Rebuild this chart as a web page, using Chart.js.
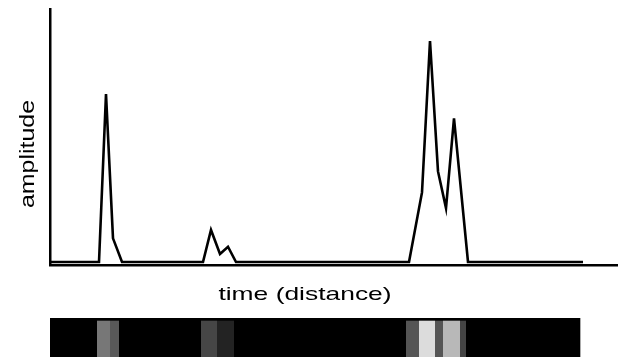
<!DOCTYPE html>
<html>
<head>
<meta charset="utf-8">
<script src="https://cdn.jsdelivr.net/npm/chart.js@4/dist/chart.umd.min.js"></script>
<style>
  body { margin: 0; background: #fff; }
  #wrap { position: relative; width: 624px; height: 357px; overflow: hidden; }
  canvas { position: absolute; left: 0; }
  #trace { top: 0; }
  #strip { top: 318px; }
</style>
</head>
<body>
<div id="wrap">
  <canvas id="trace" width="624" height="310"></canvas>
  <canvas id="strip" width="624" height="39"></canvas>
</div>
<script>
// sample times and amplitudes of the trace
var times = [0, 49, 56, 63, 72, 153, 161, 170, 178, 186, 359, 372, 380, 388, 396, 404, 418, 533];
var amps  = [0, 0, 0.76, 0.107, 0, 0, 0.145, 0.036, 0.069, 0, 0, 0.315, 1.0, 0.41, 0.244, 0.65, 0, 0];

// grey strip below: cell start/end times and grey level
var cellStart = [47, 60, 151, 167, 356, 369, 385, 393, 410];
var cellEnd   = [60, 69, 167, 184, 369, 385, 393, 410, 416];
var cellGrey  = [119, 89, 70, 35, 85, 220, 85, 184, 68];
var stripRange = [-1, 530];

var xTitle = 'time (distance)';
var yTitle = 'amplitude';

document.addEventListener("DOMContentLoaded", function () {
    var points = times.map(function (t, i) { return { x: t, y: amps[i] }; });

    // titles are drawn stretched, like in the original figure
    var titlesPlugin = {
        id: 'titles',
        afterDraw: function (chart) {
            var ctx = chart.ctx;
            ctx.save();
            ctx.fillStyle = '#000';
            ctx.textAlign = 'center';
            ctx.textBaseline = 'alphabetic';

            ctx.font = '19px "Liberation Sans", Arial, sans-serif';
            ctx.save();
            ctx.translate(305, 299.5);
            ctx.scale(1.39, 1);
            ctx.fillText(xTitle, 0, 0);
            ctx.restore();

            ctx.font = '20px "Liberation Sans", Arial, sans-serif';
            ctx.save();
            ctx.translate(33.5, 154);
            ctx.rotate(-Math.PI / 2);
            ctx.scale(1.246, 1);
            ctx.fillText(yTitle, 0, 0);
            ctx.restore();

            ctx.restore();
        }
    };

    new Chart(document.getElementById('trace').getContext('2d'), {
        type: 'line',
        data: {
            datasets: [{
                data: points,
                borderColor: '#000',
                borderWidth: 2.6,
                pointRadius: 0,
                tension: 0,
                fill: false
            }]
        },
        options: {
            responsive: false,
            animation: false,
            devicePixelRatio: 1,
            layout: { padding: { left: 50, right: 7, top: 9, bottom: 45 } },
            plugins: { legend: { display: false }, tooltip: { enabled: false } },
            scales: {
                x: {
                    type: 'linear',
                    min: 0,
                    max: 567,
                    grid: { display: false, drawTicks: false },
                    ticks: { display: false },
                    border: { display: true, color: '#000', width: 2.5 }
                },
                y: {
                    min: -0.0136,
                    max: 1.145,
                    grid: { display: false, drawTicks: false },
                    ticks: { display: false },
                    border: { display: true, color: '#000', width: 2.5 }
                }
            }
        },
        plugins: [titlesPlugin]
    });

    var stripSets = cellStart.map(function (s, i) {
        var g = cellGrey[i];
        return {
            data: [[s, cellEnd[i]]],
            backgroundColor: 'rgb(' + g + ',' + g + ',' + g + ')',
            borderColor: '#000',
            borderWidth: { top: 3, right: 0, bottom: 0, left: 0 },
            borderSkipped: false,
            grouped: false,
            barPercentage: 1,
            categoryPercentage: 1,
            order: 0
        };
    });
    stripSets.push({
        data: [stripRange],
        backgroundColor: '#000',
        borderWidth: 0,
        grouped: false,
        barPercentage: 1,
        categoryPercentage: 1,
        order: 1
    });

    new Chart(document.getElementById('strip').getContext('2d'), {
        type: 'bar',
        data: { labels: ['strip'], datasets: stripSets },
        options: {
            indexAxis: 'y',
            responsive: false,
            animation: false,
            devicePixelRatio: 1,
            layout: { padding: { left: 50, right: 7, top: 0, bottom: 0 } },
            plugins: { legend: { display: false }, tooltip: { enabled: false } },
            scales: {
                x: { type: 'linear', min: 0, max: 567, display: false },
                y: { display: false }
            }
        }
    });
});
</script>
</body>
</html>
